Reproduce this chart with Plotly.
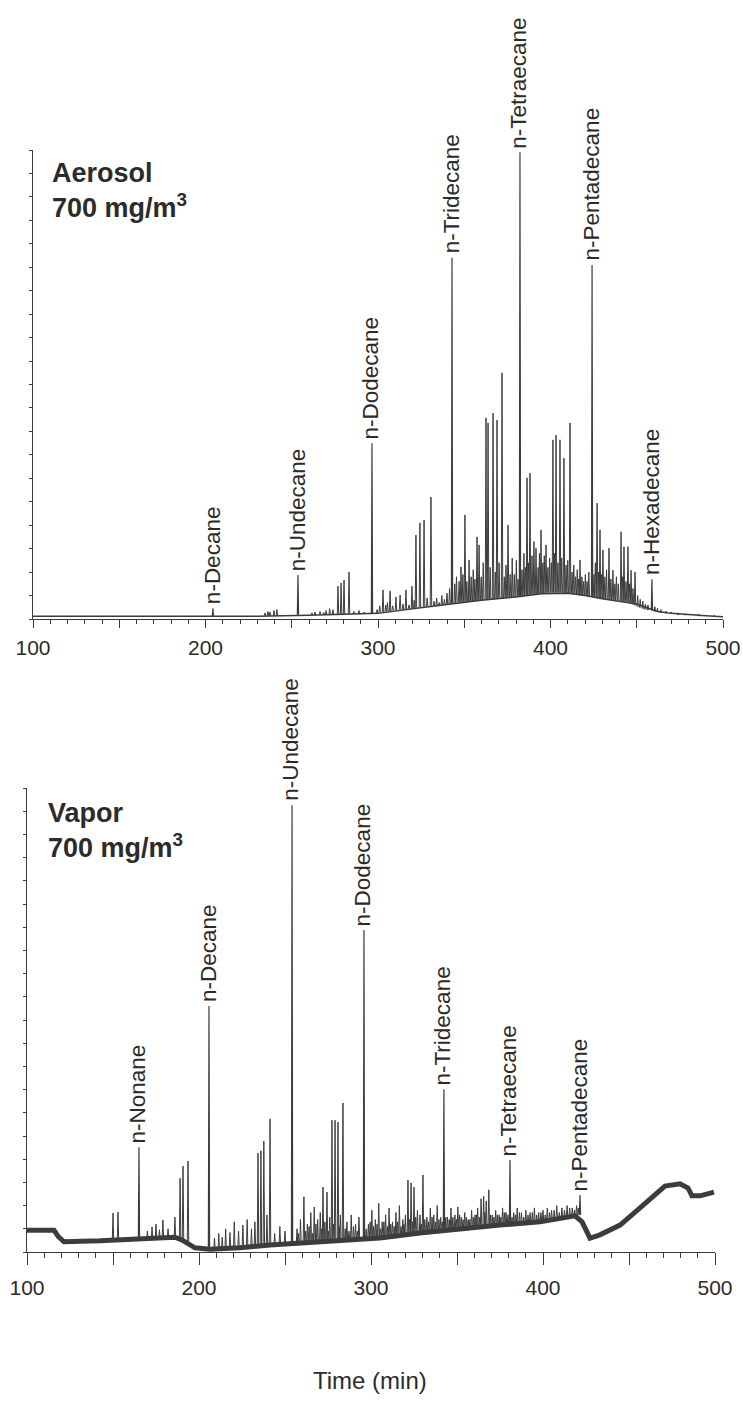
import plotly.graph_objects as go

W, H = 743, 1416
FONT = "Liberation Sans, Arial, Helvetica, sans-serif"
INK = "#2b2b2b"
LINE = "#3c3c3c"

# ---------------- Aerosol run (signal in % of full scale) ----------------
aer_base_time = [100, 230, 260, 290, 300, 320, 340, 360, 380, 395, 410, 420, 430, 440, 450, 456, 462, 470, 480, 490, 500]
aer_base_level = [0.6, 0.6, 0.8, 1.0, 1.2, 2.2, 3.1, 4.0, 4.7, 5.4, 5.5, 5.0, 4.3, 3.8, 3.2, 2.4, 1.6, 1.2, 0.9, 0.7, 0.5]

aer_named = ["n-Decane", "n-Undecane", "n-Dodecane", "n-Tridecane", "n-Tetraecane", "n-Pentadecane", "n-Hexadecane"]
aer_named_time = [204.3, 253.6, 296.5, 342.9, 382.3, 424.1, 458.8]
aer_named_top = [2.3, 9.4, 37.5, 77.0, 99.5, 75.5, 8.5]
aer_named_foot = [0.6, 0.9, 1.2, 3.3, 4.8, 4.7, 1.8]

aer_peak_time = [
    234.5, 236.2, 237.4, 239.7, 241.4, 261.7, 263.5, 266.4, 268.5, 269.9, 272.0, 273.9,
    276.8, 278.6, 280.3, 283.2, 286.0, 289.0, 292.0, 299.5, 301.0, 302.9, 304.5, 305.5,
    307.0, 308.5, 310.4, 312.8, 314.5, 316.2, 318.0, 319.7, 321.0, 322.0, 324.3, 326.7,
    328.5, 330.7, 332.5, 334.0, 335.5, 337.0, 338.5, 340.0, 341.5, 344.5, 345.5, 347.0,
    348.1, 349.2, 350.4, 351.5, 352.8, 354.0, 355.2, 356.2, 357.4, 358.6, 359.8, 361.0,
    362.6, 363.8, 365.0, 366.7, 368.0, 369.0, 370.2, 371.9, 373.2, 374.2, 375.4, 376.6,
    377.8, 379.0, 380.2, 381.2, 383.5, 384.6, 385.5, 386.4, 387.2, 388.1, 389.3, 390.4,
    391.6, 392.8, 393.6, 394.5, 395.6, 396.4, 397.4, 398.5, 399.5, 400.5, 401.4, 402.3,
    403.2, 404.3, 405.5, 406.5, 407.8, 409.0, 410.0, 411.3, 412.5, 413.5, 414.5, 415.5,
    416.3, 417.1, 418.2, 419.2, 420.2, 421.2, 422.2, 425.2, 426.0, 427.0, 427.9, 428.7,
    429.5, 430.4, 431.5, 432.5, 433.9, 435.0, 436.2, 437.3, 438.2, 439.3, 440.9, 441.8,
    442.6, 443.8, 444.9, 445.8, 446.7, 447.8, 449.0, 450.5, 452.0, 453.5, 455.0, 456.5,
    460.5, 462.0, 464.0, 467.0, 470.0, 474.0, 478.0, 486.0, 495.0,
]
aer_peak_top = [
    1.3, 1.6, 1.5, 1.8, 2.0, 1.3, 1.5, 1.6, 1.4, 1.8, 2.2, 2.0,
    7.0, 7.7, 8.3, 10.0, 1.6, 1.8, 1.5, 2.0, 2.8, 6.2, 3.0, 3.5,
    6.0, 2.8, 4.7, 5.1, 3.2, 6.2, 3.0, 7.0, 4.0, 17.9, 20.5, 21.1,
    4.5, 26.0, 3.8, 4.5, 3.5, 5.0, 4.2, 5.5, 6.5, 7.5, 9.0, 8.0,
    11.1, 9.5, 22.2, 8.0, 12.6, 9.0, 10.5, 8.5, 17.5, 15.8, 9.0, 12.0,
    42.9, 41.8, 11.0, 43.9, 10.0, 42.4, 12.0, 52.5, 9.0, 11.5, 20.0, 9.5,
    13.0, 9.5, 12.5, 8.5, 10.5, 14.0, 11.0, 30.1, 12.0, 31.1, 13.5, 16.5,
    15.1, 11.0, 14.0, 19.0, 12.0, 13.5, 15.8, 11.0, 13.0, 12.0, 38.2, 14.0,
    39.2, 12.0, 38.2, 13.0, 34.3, 11.5, 12.5, 41.8, 10.0, 11.5, 9.0, 10.5,
    8.5, 12.6, 9.0, 8.0, 9.5, 8.0, 10.0, 9.5, 12.0, 24.7, 10.0, 19.0,
    9.5, 14.7, 9.0, 10.5, 15.1, 8.5, 10.4, 7.5, 9.0, 7.5, 18.6, 9.0,
    15.4, 8.0, 15.4, 7.5, 10.4, 6.5, 10.0, 5.0, 4.2, 3.8, 3.2, 3.0,
    2.6, 2.3, 2.0, 1.7, 1.5, 1.3, 1.1, 1.0, 0.8,
]
aer_peak_foot = [
    0.7, 0.7, 0.7, 0.7, 0.7, 0.9, 0.9, 1.0, 1.0, 1.0, 1.0, 1.0,
    1.0, 1.0, 1.0, 1.1, 1.1, 1.1, 1.2, 1.3, 1.4, 1.5, 1.6, 1.6,
    1.7, 1.8, 1.9, 2.0, 2.0, 2.1, 2.2, 2.3, 2.3, 2.4, 2.5, 2.6,
    2.7, 2.8, 2.8, 2.9, 2.9, 3.0, 3.0, 3.1, 3.2, 3.4, 3.4, 3.5,
    3.5, 3.6, 3.6, 3.7, 3.7, 3.8, 3.8, 3.9, 3.9, 4.0, 4.0, 4.0,
    4.1, 4.1, 4.2, 4.2, 4.3, 4.3, 4.4, 4.4, 4.5, 4.5, 4.5, 4.6,
    4.6, 4.7, 4.7, 4.8, 4.9, 4.9, 5.0, 5.0, 5.1, 5.1, 5.2, 5.2,
    5.3, 5.3, 5.4, 5.4, 5.5, 5.5, 5.5, 5.6, 5.6, 5.6, 5.6, 5.6,
    5.6, 5.6, 5.6, 5.6, 5.5, 5.5, 5.5, 5.4, 5.4, 5.3, 5.3, 5.2,
    5.2, 5.1, 5.0, 5.0, 4.9, 4.9, 4.8, 4.6, 4.6, 4.5, 4.5, 4.4,
    4.4, 4.3, 4.3, 4.2, 4.2, 4.1, 4.1, 4.0, 4.0, 3.9, 3.8, 3.8,
    3.7, 3.7, 3.6, 3.5, 3.3, 3.1, 2.9, 2.6, 2.4, 2.2, 2.0, 1.9,
    1.6, 1.5, 1.3, 1.2, 1.1, 0.9, 0.8, 0.6, 0.5,
]

# ---------------- Vapor run (signal in % of full scale) ----------------
vap_base_time = [100, 115.7, 118, 121.5, 142.4, 165.7, 186, 190, 197.7, 206.4, 223.8, 241.3, 258.7, 282,
                 305.2, 328.5, 351.7, 375, 398.3, 418.6, 422.7, 427.3, 433.1, 444.8, 456.4, 465.1, 470.9,
                 479.7, 484.3, 486.6, 491.3, 499.4]
vap_base_level = [4.7, 4.7, 3.4, 2.2, 2.4, 2.8, 3.2, 2.6, 0.9, 0.6, 0.9, 1.5, 1.9, 2.6,
                  3.0, 4.1, 5.0, 5.8, 6.5, 7.8, 6.5, 3.0, 3.7, 5.8, 9.5, 12.3, 14.2,
                  14.7, 13.8, 12.1, 12.1, 12.9]

vap_named = ["n-Nonane", "n-Decane", "n-Undecane", "n-Dodecane", "n-Tridecane", "n-Tetraecane", "n-Pentadecane"]
vap_named_time = [165.1, 205.8, 254.1, 295.9, 342.4, 380.8, 421.5]
vap_named_top = [22.6, 53.0, 96.3, 69.4, 35.1, 19.8, 12.3]
vap_named_foot = [2.7, 0.6, 1.8, 2.9, 4.7, 6.0, 8.0]

vap_peak_time = [
    150.0, 152.9, 170.0, 172.7, 175.0, 177.0, 179.0, 182.0, 186.0, 189.0, 190.7, 193.6,
    209.0, 211.5, 213.5, 215.5, 218.0, 220.5, 223.0, 225.5, 228.0, 230.5, 232.5, 234.3,
    236.0, 237.7, 239.5, 241.3, 244.0, 247.0, 250.0, 257.0, 259.0, 261.0, 263.0, 265.0,
    267.0, 269.0, 270.5, 272.1, 274.4, 276.0, 277.3, 279.1, 280.8, 282.2, 283.7, 286.0,
    288.5, 291.0, 293.0, 298.5, 300.5, 302.5, 304.5, 306.5, 308.5, 310.5, 312.5, 314.5,
    316.5, 318.5, 320.0, 321.5, 323.3, 325.0, 327.0, 328.5, 330.2, 332.5, 334.5, 336.5,
    338.5, 340.5, 344.5, 346.5, 348.8, 350.5, 352.5, 354.5, 356.5, 358.5, 360.5, 362.0,
    364.0, 365.5, 367.0, 368.5, 370.5, 372.5, 374.5, 376.5, 378.5, 383.0, 385.0, 387.5,
    390.0, 392.5, 395.0, 397.5, 400.0, 402.5, 405.0, 408.0, 411.0, 414.0, 417.0, 419.5,
]
vap_peak_top = [
    8.4, 8.6, 4.5, 5.4, 6.0, 4.8, 6.9, 5.0, 7.5, 15.9, 18.5, 19.6,
    3.0, 4.0, 3.2, 5.0, 4.2, 6.5, 4.5, 5.8, 7.0, 5.0, 6.5, 21.3,
    21.8, 23.9, 8.0, 28.7, 4.0, 5.5, 4.5, 5.0, 7.0, 11.9, 6.0, 8.5,
    9.7, 7.0, 8.5, 14.0, 12.9, 7.5, 28.4, 28.4, 28.0, 8.0, 32.1, 6.5,
    8.0, 6.0, 7.5, 6.0, 9.0, 7.0, 10.5, 6.5, 8.0, 9.5, 6.5, 8.5,
    10.0, 7.0, 8.0, 15.5, 14.9, 14.0, 9.0, 8.0, 16.6, 7.5, 9.5, 8.0,
    10.0, 7.5, 7.5, 9.5, 8.0, 9.7, 7.5, 8.5, 7.0, 9.0, 8.0, 9.5,
    11.5, 12.0, 11.0, 13.4, 8.0, 9.0, 8.0, 9.5, 8.5, 8.5, 9.5, 8.5,
    9.0, 8.5, 9.5, 8.5, 9.0, 9.5, 9.0, 10.0, 9.5, 10.0, 9.5, 10.0,
]
vap_peak_foot = [
    2.3, 2.3, 2.8, 2.8, 2.9, 2.9, 3.0, 3.0, 3.1, 3.0, 2.8, 2.2,
    0.6, 0.6, 0.7, 0.7, 0.8, 0.8, 0.9, 0.9, 1.0, 1.1, 1.2, 1.2,
    1.3, 1.3, 1.4, 1.5, 1.6, 1.7, 1.7, 1.9, 1.9, 2.0, 2.0, 2.1,
    2.1, 2.2, 2.2, 2.3, 2.3, 2.4, 2.4, 2.5, 2.5, 2.6, 2.6, 2.7,
    2.7, 2.8, 2.8, 2.9, 3.0, 3.0, 3.0, 3.1, 3.2, 3.3, 3.4, 3.5,
    3.6, 3.7, 3.8, 3.8, 3.9, 3.9, 4.0, 4.0, 4.1, 4.2, 4.3, 4.4,
    4.5, 4.6, 4.8, 4.8, 4.9, 5.0, 5.1, 5.2, 5.3, 5.4, 5.4, 5.5,
    5.5, 5.6, 5.6, 5.7, 5.7, 5.8, 5.8, 5.9, 5.9, 6.0, 6.1, 6.2,
    6.3, 6.4, 6.5, 6.6, 6.7, 6.9, 7.0, 7.2, 7.4, 7.6, 7.8, 8.0,
]

# small baseline noise spikes of the vapor run
vap_grass_time = [
    257.8, 262.0, 264.0, 266.0, 268.0, 271.3, 273.2, 275.2, 278.2, 281.5, 285.0, 287.2,
    289.8, 292.0, 297.2, 299.5, 301.5, 303.5, 305.5, 307.5, 309.5, 311.5, 313.5, 315.5,
    317.5, 319.2, 322.4, 324.2, 326.0, 329.3, 331.3, 333.5, 335.5, 337.5, 339.5, 341.4,
    343.5, 345.5, 347.6, 349.7, 351.5, 353.5, 355.5, 357.5, 359.5, 361.3, 363.0, 366.2,
    369.5, 371.5, 373.5, 375.5, 377.5, 379.6, 382.0, 384.0, 386.3, 388.8, 391.3, 393.8,
    396.3, 398.8, 401.3, 403.8, 406.5, 409.5, 412.5, 415.5, 418.3, 420.5,
]
vap_grass_top = [
    4.0, 4.5, 5.5, 4.0, 6.0, 5.0, 6.5, 4.5, 6.0, 5.5, 5.0, 4.5,
    5.5, 4.5, 5.0, 6.5, 5.5, 6.0, 5.0, 6.5, 5.5, 6.0, 5.5, 6.5,
    5.5, 6.0, 7.0, 6.5, 7.5, 6.0, 7.0, 6.5, 7.5, 6.5, 7.0, 6.5,
    7.5, 7.0, 7.5, 7.0, 8.0, 7.0, 7.5, 7.0, 7.5, 8.0, 7.5, 8.5,
    8.0, 7.5, 8.0, 7.5, 8.5, 8.0, 7.5, 8.0, 8.5, 7.5, 8.0, 8.5,
    8.0, 8.5, 8.0, 8.5, 9.0, 8.5, 9.0, 9.5, 9.0, 9.5,
]
vap_grass_foot = [
    1.9, 2.0, 2.0, 2.1, 2.1, 2.2, 2.3, 2.3, 2.4, 2.5, 2.6, 2.7,
    2.7, 2.8, 2.9, 2.9, 3.0, 3.0, 3.1, 3.1, 3.2, 3.3, 3.4, 3.5,
    3.6, 3.7, 3.8, 3.9, 3.9, 4.0, 4.1, 4.2, 4.3, 4.4, 4.5, 4.6,
    4.7, 4.8, 4.8, 4.9, 5.0, 5.1, 5.2, 5.3, 5.4, 5.4, 5.5, 5.6,
    5.7, 5.7, 5.8, 5.8, 5.9, 5.9, 6.0, 6.1, 6.1, 6.2, 6.3, 6.4,
    6.5, 6.6, 6.8, 6.9, 7.1, 7.3, 7.5, 7.7, 7.9, 8.0,
]

x_label_vals = [100, 200, 300, 400, 500]
x_mid_vals = [150, 250, 350, 450]


def spike_path(times, tops, feet, half=0.3):
    """Polyline of narrow triangular peaks, one triangle per peak, broken by None."""
    xs, ys = [], []
    for t, a, f in zip(times, tops, feet):
        xs += [t - half, t, t + half, None]
        ys += [f, a, f, None]
    return xs, ys


def px_x(p):
    return p / W


def px_y(p):
    return 1 - p / H


fig = go.Figure()

panels = [
    dict(xa="x", ya="y", base=(aer_base_time, aer_base_level), base_w=1.5,
         named=(aer_named, aer_named_time, aer_named_top, aer_named_foot),
         peaks=[(aer_peak_time, aer_peak_top, aer_peak_foot)]),
    dict(xa="x2", ya="y2", base=(vap_base_time, vap_base_level), base_w=5,
         named=(vap_named, vap_named_time, vap_named_top, vap_named_foot),
         peaks=[(vap_peak_time, vap_peak_top, vap_peak_foot),
                (vap_grass_time, vap_grass_top, vap_grass_foot)]),
]

annotations = []
for p in panels:
    bx, by = p["base"]
    fig.add_trace(go.Scatter(x=bx, y=by, mode="lines", xaxis=p["xa"], yaxis=p["ya"],
                             line=dict(color=LINE, width=p["base_w"]), hoverinfo="skip", showlegend=False))
    for group in p["peaks"]:
        sx, sy = spike_path(*group, half=0.42)
        fig.add_trace(go.Scatter(x=sx, y=sy, mode="lines", xaxis=p["xa"], yaxis=p["ya"],
                                 line=dict(color=LINE, width=1), hoverinfo="skip", showlegend=False))
    names, nt, ntop, nfoot = p["named"]
    sx, sy = spike_path(nt, ntop, nfoot, half=0.35)
    fig.add_trace(go.Scatter(x=sx, y=sy, mode="lines", xaxis=p["xa"], yaxis=p["ya"],
                             line=dict(color=LINE, width=1.2), hoverinfo="skip", showlegend=False))
    for name, t, top in zip(names, nt, ntop):
        annotations.append(dict(x=t, y=top, xref=p["xa"], yref=p["ya"], text=name, textangle=-90,
                                showarrow=False, xanchor="center", yanchor="bottom", yshift=2, xshift=-1,
                                font=dict(family=FONT, size=22.5, color=INK)))

annotations += [
    dict(x=px_x(50), y=px_y(156), xref="paper", yref="paper", xanchor="left", yanchor="top",
         text="<b>Aerosol<br>700 mg/m<sup>3</sup></b>", showarrow=False, align="left",
         font=dict(family=FONT, size=27, color=INK)),
    dict(x=px_x(46), y=px_y(796), xref="paper", yref="paper", xanchor="left", yanchor="top",
         text="<b>Vapor<br>700 mg/m<sup>3</sup></b>", showarrow=False, align="left",
         font=dict(family=FONT, size=27, color=INK)),
    dict(x=px_x(370), y=px_y(1380), xref="paper", yref="paper", xanchor="center", yanchor="middle",
         text="Time (min)", showarrow=False, font=dict(family=FONT, size=24, color=INK)),
]


def x_axis(domain, anchor, major_len, minor_len, standoff):
    return dict(domain=domain, anchor=anchor, range=[100, 500], automargin=False,
                showline=True, linecolor=LINE, linewidth=1, ticks="outside",
                ticklen=major_len, tickwidth=1, tickcolor=LINE, tickvals=x_label_vals,
                ticklabelstandoff=standoff,
                tickfont=dict(family=FONT, size=21, color=INK),
                minor=dict(ticks="outside", ticklen=minor_len, dtick=10, tick0=100,
                           tickcolor=LINE, tickwidth=1),
                showgrid=False, zeroline=False)


def mid_tick_axis(over, anchor, major_len):
    # half-century ticks drawn on an overlaid, label-free copy of the time axis
    return dict(overlaying=over, anchor=anchor, side="bottom", range=[100, 500], automargin=False,
                showline=False, ticks="outside", ticklen=major_len, tickwidth=1, tickcolor=LINE,
                tickvals=x_mid_vals, showticklabels=False, showgrid=False, zeroline=False)


def y_axis(domain, anchor):
    return dict(domain=domain, anchor=anchor, range=[0, 100], automargin=False,
                showline=True, linecolor=LINE, linewidth=1, ticks="outside",
                ticklen=3, dtick=5, tickcolor=LINE, showticklabels=False,
                showgrid=False, zeroline=False)


# invisible carriers so the overlaid tick axes are laid out
fig.add_trace(go.Scatter(x=[100, 500], y=[0, 0], xaxis="x3", yaxis="y", mode="lines",
                         line=dict(width=0), hoverinfo="skip", showlegend=False))
fig.add_trace(go.Scatter(x=[100, 500], y=[0, 0], xaxis="x4", yaxis="y2", mode="lines",
                         line=dict(width=0), hoverinfo="skip", showlegend=False))

fig.update_layout(
    width=W, height=H, margin=dict(l=0, r=0, t=0, b=0, autoexpand=False),
    paper_bgcolor="white", plot_bgcolor="white", showlegend=False,
    xaxis=x_axis([px_x(33), px_x(723)], "y", 8, 4, 2),
    yaxis=y_axis([px_y(619), px_y(150)], "x"),
    xaxis2=x_axis([px_x(27), px_x(715)], "y2", 12, 5, 5),
    yaxis2=y_axis([px_y(1252), px_y(788)], "x2"),
    xaxis3=mid_tick_axis("x", "y", 8),
    xaxis4=mid_tick_axis("x2", "y2", 12),
    annotations=annotations,
)

fig.write_html("out.html")
